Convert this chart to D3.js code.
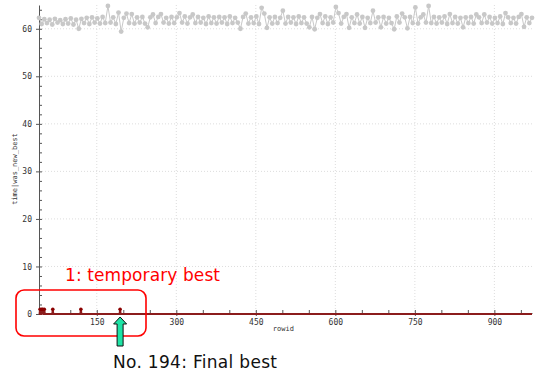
<!DOCTYPE html>
<html>
<head>
<meta charset="utf-8">
<script src="https://cdn.jsdelivr.net/npm/d3@7"></script>
<style>
  body { margin: 0; background: #fff; }
  svg { display: block; }
</style>
</head>
<body>
<div id="chart"></div>
<script>
// time per row (sampled every 5 rows, starting at rowid 41)
const rowStart = 41, rowStep = 5, rowEnd = 971;
const timeVals = [
  62.3,61.0,62.0,61.2,61.9,60.9,62.1,61.3,61.8,61.0,
  62.0,61.1,62.2,60.9,61.9,60.0,62.1,61.2,62.3,61.0,
  62.4,61.3,62.2,61.1,62.5,61.2,64.8,61.3,62.4,61.0,
  63.4,59.4,62.3,63.2,61.2,63.1,61.1,62.4,61.3,62.5,
  61.1,60.3,62.4,63.0,61.2,62.5,63.1,61.3,62.3,61.1,
  62.5,61.2,62.4,63.3,61.3,62.6,61.1,62.4,63.0,61.2,
  62.5,61.3,62.3,61.0,62.6,61.2,62.4,61.1,62.5,61.3,
  62.4,61.0,62.6,61.2,62.3,61.3,60.0,62.5,63.2,61.1,
  62.4,61.2,62.6,61.0,64.4,63.2,60.2,62.4,61.1,62.5,
  61.2,62.3,63.8,61.1,62.5,61.3,62.4,61.0,62.6,61.2,
  62.4,61.1,60.3,62.5,59.9,62.3,63.1,61.2,62.6,61.0,
  62.4,61.3,64.6,63.3,61.1,62.5,63.1,60.2,62.4,61.2,
  63.0,61.1,62.5,60.2,62.3,61.2,63.8,61.3,62.4,60.3,
  62.5,61.1,62.3,61.2,59.9,62.6,61.3,63.2,62.4,60.1,
  62.5,61.2,64.5,61.1,62.4,63.0,61.3,64.8,61.2,62.5,
  61.1,62.4,61.3,62.6,61.0,63.1,61.2,62.5,61.1,62.3,
  60.3,62.4,61.2,62.5,61.1,63.0,62.4,61.2,63.0,61.3,
  62.5,61.1,62.3,61.2,62.6,61.0,63.3,62.4,61.2,62.3,
  61.1,62.5,63.1,60.4,62.4,61.2,62.3
];
// rows where was_new_best = 1 (all others 0)
const newBestRows = [43, 46, 48, 51, 67, 120, 194];
const finalBest = 194;

const xTicks = [150, 300, 450, 600, 750, 900];
const yTicks = [0, 10, 20, 30, 40, 50, 60];

{
const W = 537, H = 376;
const mLeft = 39, mRight = 532, mTop = 5, mBottom = 314;

const svg = d3.select("#chart").append("svg")
  .attr("width", W).attr("height", H);

const x = d3.scaleLinear().domain([rowStart, rowEnd]).range([mLeft, mRight]);
const y = d3.scaleLinear().domain([0, 65]).range([mBottom, mTop]);

const mono = "'DejaVu Sans Mono', monospace";

// grid
svg.append("g").selectAll("line").data(xTicks).join("line")
  .attr("x1", d => x(d)).attr("x2", d => x(d))
  .attr("y1", mTop).attr("y2", mBottom)
  .attr("stroke", "#ddd").attr("stroke-dasharray", "1,2");
svg.append("g").selectAll("line").data(yTicks.filter(d => d > 0)).join("line")
  .attr("x1", mLeft).attr("x2", mRight)
  .attr("y1", d => y(d)).attr("y2", d => y(d))
  .attr("stroke", "#ddd").attr("stroke-dasharray", "1,2");

// axes
const yAxis = svg.append("g").attr("transform", `translate(${mLeft},0)`)
  .call(d3.axisLeft(y).tickValues(d3.range(0, 65, 2)).tickSize(-3).tickSizeOuter(0).tickFormat(""));
const yMajor = svg.append("g").attr("transform", `translate(${mLeft},0)`)
  .call(d3.axisLeft(y).tickValues(yTicks).tickSize(3).tickPadding(4));
const xAxis = svg.append("g").attr("transform", `translate(0,${mBottom - 1})`)
  .call(d3.axisBottom(x).tickValues(d3.range(50, 971, 50)).tickSize(-3).tickSizeOuter(0).tickFormat(""));
const xMajor = svg.append("g").attr("transform", `translate(0,${mBottom - 1})`)
  .call(d3.axisBottom(x).tickValues(xTicks).tickSize(3).tickPadding(3));

[yAxis, yMajor, xAxis, xMajor].forEach(g => {
  g.select(".domain").attr("stroke", "#555");
  g.selectAll(".tick line").attr("stroke", "#555");
  g.selectAll("text").attr("font-family", mono).attr("font-size", 8).attr("fill", "#333");
});
yMajor.select(".domain").remove();
xMajor.select(".domain").remove();

// axis titles
svg.append("text")
  .attr("transform", `translate(17,${y(30.5)}) rotate(-90)`)
  .attr("text-anchor", "middle")
  .attr("font-family", mono).attr("font-size", 7).attr("fill", "#333")
  .text("time|was_new_best");
svg.append("text")
  .attr("x", x(502)).attr("y", 331)
  .attr("text-anchor", "middle")
  .attr("font-family", mono).attr("font-size", 7).attr("fill", "#333")
  .text("rowid");

// gray series: time
const timeData = timeVals.map((v, i) => [rowStart + i * rowStep, v]);
svg.append("path").datum(timeData)
  .attr("fill", "none").attr("stroke", "#c8c8c8").attr("stroke-width", 1)
  .attr("d", d3.line().x(d => x(d[0])).y(d => y(d[1])));
svg.append("g").selectAll("circle").data(timeData).join("circle")
  .attr("cx", d => x(d[0])).attr("cy", d => y(d[1])).attr("r", 2.4)
  .attr("fill", "#c8c8c8");

// red series: was_new_best
const bestData = d3.range(rowStart, rowEnd + 1).map(r => [r, newBestRows.includes(r) ? 1 : 0]);
svg.append("path").datum(bestData)
  .attr("fill", "none").attr("stroke", "#8b1c1c").attr("stroke-width", 2)
  .attr("d", d3.line().x(d => x(d[0])).y(d => y(d[1])));
svg.append("g").selectAll("circle").data(newBestRows).join("circle")
  .attr("cx", d => x(d)).attr("cy", y(1)).attr("r", 1.8)
  .attr("fill", "#8b0000");

// annotations
svg.append("rect")
  .attr("x", 16).attr("y", 290).attr("width", 130).attr("height", 46)
  .attr("rx", 8).attr("fill", "none").attr("stroke", "#ff0000").attr("stroke-width", 1.6);
svg.append("text")
  .attr("x", 65).attr("y", 281)
  .attr("font-family", "'DejaVu Sans', Verdana, sans-serif").attr("font-size", 17)
  .attr("fill", "#ff0000").attr("textLength", 155)
  .text("1: temporary best");

const ax = x(finalBest);
svg.append("path")
  .attr("d", `M${ax},317 L${ax + 6.5},324 L${ax + 3},324 L${ax + 3},346 L${ax - 3},346 L${ax - 3},324 L${ax - 6.5},324 Z`)
  .attr("fill", "#1de4a5").attr("stroke", "#111").attr("stroke-width", 1);
svg.append("text")
  .attr("x", 113).attr("y", 368)
  .attr("font-family", "'DejaVu Sans', Verdana, sans-serif").attr("font-size", 17)
  .attr("fill", "#111").attr("textLength", 164)
  .text("No. 194: Final best");
}
</script>
</body>
</html>
